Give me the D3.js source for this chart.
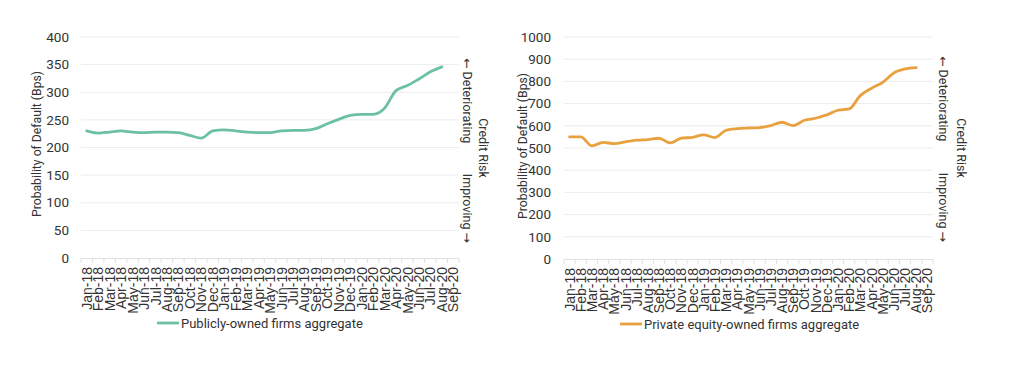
<!DOCTYPE html>
<html>
<head>
<meta charset="utf-8">
<script src="https://cdn.jsdelivr.net/npm/d3@7"></script>
<style>
  body { margin: 0; background: #fff; }
  svg { display: block; font-family: Roboto, "Noto Sans", sans-serif; }
</style>
</head>
<body>
<div id="chart"></div>
<script>
const months = ["Jan-18","Feb-18","Mar-18","Apr-18","May-18","Jun-18","Jul-18","Aug-18","Sep-18","Oct-18","Nov-18","Dec-18",
  "Jan-19","Feb-19","Mar-19","Apr-19","May-19","Jun-19","Jul-19","Aug-19","Sep-19","Oct-19","Nov-19","Dec-19",
  "Jan-20","Feb-20","Mar-20","Apr-20","May-20","Jun-20","Jul-20","Aug-20","Sep-20"];

// Jan-18 .. Aug-20 (no Sep-20 point)
const publicValues = [230,226,228,230,228,227,228,228,227,222,217,230,
  232,230,228,227,227,230,231,231,234,243,251,258,
  260,260,271,303,312,324,337,346];
const privateValues = [550,550,510,525,520,528,535,538,544,523,544,548,
  559,547,580,587,590,592,601,616,601,625,634,649,
  670,676,736,769,796,838,856,862];

const publicTicks = [0,50,100,150,200,250,300,350,400];
const privateTicks = [0,100,200,300,400,500,600,700,800,900,1000];

const width = 1024;
const height = 369;

const svg = d3.select("#chart")
  .append("svg")
  .attr("width", width)
  .attr("height", height);

svg.append("rect").attr("width", width).attr("height", height).attr("fill", "#fff");

function drawPanel(opts) {
  const x = d3.scaleBand()
    .domain(months)
    .range([opts.left, opts.right]);

  const y = d3.scaleLinear()
    .domain([0, d3.max(opts.ticks)])
    .range([opts.bottom, opts.top]);

  const g = svg.append("g");

  // gridlines
  g.append("g")
    .selectAll("line")
    .data(opts.ticks.filter(d => d > 0))
    .enter()
    .append("line")
    .attr("x1", opts.left)
    .attr("x2", opts.right)
    .attr("y1", d => y(d))
    .attr("y2", d => y(d))
    .attr("stroke", "#ececec")
    .attr("stroke-width", 1);

  // y tick labels
  g.append("g")
    .selectAll("text")
    .data(opts.ticks)
    .enter()
    .append("text")
    .attr("x", opts.yLabelX)
    .attr("y", d => y(d))
    .attr("dy", "0.35em")
    .attr("text-anchor", "end")
    .attr("font-size", "13.5px")
    .attr("fill", "#333")
    .text(d => d);

  // x axis baseline and ticks at band boundaries
  g.append("line")
    .attr("x1", opts.left)
    .attr("x2", opts.right)
    .attr("y1", opts.bottom + 0.5)
    .attr("y2", opts.bottom + 0.5)
    .attr("stroke", "#e0e0e0");

  const bounds = months.map(m => x(m)).concat([opts.right]);
  g.append("g")
    .selectAll("line")
    .data(bounds)
    .enter()
    .append("line")
    .attr("x1", d => d)
    .attr("x2", d => d)
    .attr("y1", opts.bottom)
    .attr("y2", opts.bottom + 5)
    .attr("stroke", "#e0e0e0");

  // x tick labels (rotated)
  g.append("g")
    .selectAll("text")
    .data(months)
    .enter()
    .append("text")
    .attr("transform", d => `translate(${x(d) + x.bandwidth() / 2},${opts.bottom + 9}) rotate(-90)`)
    .attr("dy", "0.36em")
    .attr("text-anchor", "end")
    .attr("font-family", "'Liberation Sans', Arial, sans-serif")
    .attr("font-size", "14px")
    .attr("fill", "#333")
    .text(d => d);

  // y axis title
  g.append("text")
    .attr("transform", `translate(${opts.titleX},${opts.titleY}) rotate(-90)`)
    .attr("text-anchor", "middle")
    .attr("dy", "0.35em")
    .attr("font-size", "12.2px")
    .attr("fill", "#333")
    .text("Probability of Default (Bps)");

  // line
  const line = d3.line()
    .x((d, i) => x(months[i]) + x.bandwidth() / 2)
    .y(d => y(d))
    .curve(d3.curveMonotoneX);

  g.append("path")
    .datum(opts.values)
    .attr("d", line)
    .attr("fill", "none")
    .attr("stroke", opts.color)
    .attr("stroke-width", 2.8)
    .attr("stroke-linejoin", "round")
    .attr("stroke-linecap", "round");

  // credit risk annotation
  const det = g.append("text")
    .attr("transform", `translate(${opts.arrowX},${opts.detTop}) rotate(90)`)
    .attr("dy", "0.35em")
    .attr("font-size", "12.5px")
    .attr("fill", "#333");
  det.append("tspan").attr("font-family", "'DejaVu Sans', sans-serif").text("\u2190");
  det.append("tspan").text(" Deteriorating");

  const imp = g.append("text")
    .attr("transform", `translate(${opts.arrowX},${opts.impBottom}) rotate(90)`)
    .attr("dy", "0.35em")
    .attr("text-anchor", "end")
    .attr("font-size", "12.5px")
    .attr("fill", "#333");
  imp.append("tspan").text("Improving ");
  imp.append("tspan").attr("font-family", "'DejaVu Sans', sans-serif").text("\u2192");

  g.append("text")
    .attr("transform", `translate(${opts.riskX},${opts.riskY}) rotate(90)`)
    .attr("dy", "0.35em")
    .attr("text-anchor", "middle")
    .attr("font-size", "12.5px")
    .attr("fill", "#333")
    .text("Credit Risk");

  // legend
  g.append("line")
    .attr("x1", opts.legendX)
    .attr("x2", opts.legendX + 22)
    .attr("y1", opts.legendY)
    .attr("y2", opts.legendY)
    .attr("stroke", opts.color)
    .attr("stroke-width", 2.8);

  g.append("text")
    .attr("x", opts.legendX + 24)
    .attr("y", opts.legendY)
    .attr("dy", "0.35em")
    .attr("font-size", "13px")
    .attr("fill", "#333")
    .text(opts.legend);
}

drawPanel({
  values: publicValues,
  ticks: publicTicks,
  color: "#6cc0a4",
  left: 81, right: 459, top: 37, bottom: 258,
  yLabelX: 69, titleX: 37, titleY: 144,
  arrowX: 467, detTop: 58, impBottom: 243,
  riskX: 483, riskY: 148,
  legendX: 157, legendY: 323,
  legend: "Publicly-owned firms aggregate"
});

drawPanel({
  values: privateValues,
  ticks: privateTicks,
  color: "#e9a13f",
  left: 564, right: 933, top: 37, bottom: 259,
  yLabelX: 551, titleX: 523, titleY: 146,
  arrowX: 943, detTop: 56, impBottom: 242,
  riskX: 961, riskY: 148,
  legendX: 620, legendY: 324,
  legend: "Private equity-owned firms aggregate"
});
</script>
</body>
</html>
